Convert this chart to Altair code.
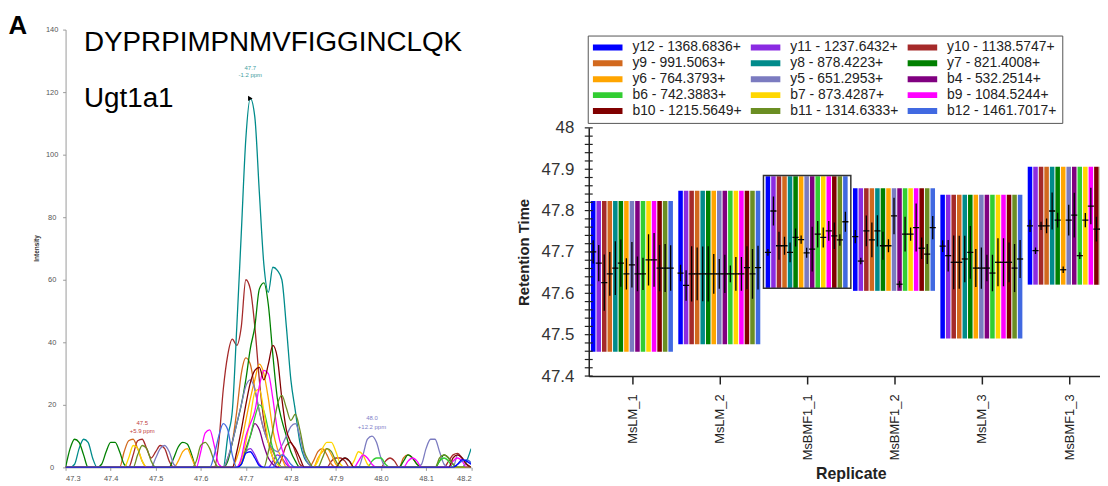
import json
import altair as alt
import pandas as pd

FONT = "Liberation Sans"

# ---------------- shared ion list ----------------
ION_LABELS = ["y12 - 1368.6836+", "y11 - 1237.6432+", "y10 - 1138.5747+",
              "y9 - 991.5063+", "y8 - 878.4223+", "y7 - 821.4008+",
              "y6 - 764.3793+", "y5 - 651.2953+", "b4 - 532.2514+",
              "b6 - 742.3883+", "b7 - 873.4287+", "b9 - 1084.5244+",
              "b10 - 1215.5649+", "b11 - 1314.6333+", "b12 - 1461.7017+"]
ION_COLORS = ["#0000FF", "#8A2BE2", "#A52A2A", "#D2691E", "#008B8B", "#008000",
              "#FFA500", "#7B7BC0", "#800080", "#32CD32", "#FFD700", "#FF00FF",
              "#800000", "#6B8E23", "#4169E1"]
LEGEND_COLUMNS = 3

# ---------------- left panel: chromatogram ----------------
PANEL_LETTER = "A"
PEPTIDE = "DYPRPIMPNMVFIGGINCLQK"
PROTEIN = "Ugt1a1"

TIME = [47.30, 47.31, 47.32, 47.33, 47.34, 47.35, 47.36, 47.37, 47.38, 47.39,
        47.40, 47.41, 47.42, 47.43, 47.44, 47.45, 47.46, 47.47, 47.48, 47.49,
        47.50, 47.51, 47.52, 47.53, 47.54, 47.55, 47.56, 47.57, 47.58, 47.59,
        47.60, 47.61, 47.62, 47.63, 47.64, 47.65, 47.66, 47.67, 47.68, 47.69,
        47.70, 47.71, 47.72, 47.73, 47.74, 47.75, 47.76, 47.77, 47.78, 47.79,
        47.80, 47.81, 47.82, 47.83, 47.84, 47.85, 47.86, 47.87, 47.88, 47.89,
        47.90, 47.91, 47.92, 47.93, 47.94, 47.95, 47.96, 47.97, 47.98, 47.99,
        48.00, 48.01, 48.02, 48.03, 48.04, 48.05, 48.06, 48.07, 48.08, 48.09,
        48.10, 48.11, 48.12, 48.13, 48.14, 48.15, 48.16, 48.17, 48.18, 48.19,
        48.20]

INT_Y12 = [0, 0, 0, 0, 0, 0, 0, 0, 0, 0,
           0, 0, 0, 0, 0, 0, 0, 0, 0, 0,
           0, 0, 0, 0, 0, 0, 0, 0, 0, 0,
           0, 0, 0, 0, 0, 0, 0, 0, 0, 1,
           4.5, 5, 3, 0.5, 0, 0, 0, 0, 0, 0,
           0, 0, 0, 0, 0, 0, 0, 0, 0, 0,
           0, 0, 0, 0, 0, 0, 0, 0, 0, 0,
           0, 0, 0, 0, 0, 0, 0, 0, 0, 0,
           0, 0, 0, 0, 0, 0, 0, 1, 2.5, 2,
           1]
INT_Y11 = [0, 0, 0, 0, 0, 0, 0, 0, 0, 0,
           0, 0, 0, 0, 0, 0, 0, 0, 0, 0,
           0, 0, 0, 0, 0, 0, 0, 0, 0, 0,
           0, 0, 0, 0, 0, 0, 0, 0, 0, 2,
           5, 6, 4, 1, 0, 0, 2, 4, 3, 1,
           0, 0, 0, 0, 0, 0, 0, 0, 0, 0,
           0, 0, 0, 0, 0, 0, 0, 0, 0, 0,
           0, 0, 0, 0, 0, 0, 0, 0, 0, 0,
           0, 0, 0, 0, 0, 0, 0, 0, 0, 0,
           0]
INT_Y10 = [0, 0, 0, 0, 0, 0, 0, 0, 0, 0,
           0, 0, 0, 0, 0, 4, 8.5, 9, 6, 3,
           5, 7, 6, 2, 0, 0, 0, 0, 0, 0,
           0, 0, 0, 0, 8, 25, 36, 41, 39, 45,
           60, 57, 45, 28, 15, 8, 3, 0, 3, 7,
           8, 5, 1, 0, 0, 0, 0, 0, 0, 2,
           3, 3, 2, 0, 0, 0, 0, 0, 0, 0,
           0, 2, 3, 2, 0, 0, 0, 0, 0, 0,
           0, 0, 0, 0, 0, 2, 4, 4.5, 3, 1,
           0]
INT_Y9 = [0, 0, 0, 0, 0, 0, 0, 0, 0, 0,
          0, 0, 0, 5, 8.5, 9, 6, 2, 0, 0,
          0, 0, 0, 0, 0, 0, 0, 0, 0, 0,
          0, 0, 0, 0, 0, 0, 3, 8, 18, 30,
          35, 33, 25, 18, 12, 8, 5, 2, 0, 0,
          0, 0, 0, 0, 0, 2, 5, 6, 4, 1,
          0, 0, 0, 0, 0, 0, 0, 0, 0, 0,
          0, 0, 0, 0, 0, 3, 4, 3, 1, 0,
          0, 0, 0, 0, 0, 0, 0, 0, 0, 0,
          0]
INT_Y8 = [0, 0, 1, 6, 9, 8, 3, 0, 0, 0,
          0, 0, 0, 0, 0, 0, 0, 0, 0, 0,
          0, 0, 0, 0, 0, 0, 0, 0, 0, 0,
          0, 0, 0, 0, 0, 0, 10, 18, 45, 75,
          105, 118, 112, 88, 65, 56, 64, 63, 60, 45,
          28, 18, 8, 3, 1, 0, 0, 0, 0, 0,
          0, 2, 3, 2, 0, 0, 0, 0, 0, 0,
          0, 0, 0, 0, 0, 0, 0, 0, 0, 0,
          0, 0, 0, 0, 0, 0, 0, 0, 0, 2,
          6]
INT_Y7 = [0, 6, 9, 8, 4, 0, 0, 0, 1, 5,
          8, 8, 5, 1, 0, 0, 0, 0, 0, 0,
          0, 0, 0, 0, 3, 6.5, 8, 7.5, 4, 0,
          0, 0, 0, 0, 0, 0, 2, 8, 14, 20,
          28, 38, 45, 57, 59, 52, 36, 22, 15, 10,
          5, 2, 0, 0, 0, 0, 0, 0, 0, 0,
          0, 0, 0, 0, 0, 0, 0, 0, 0, 0,
          0, 0, 0, 0, 0, 2, 4, 3, 1, 0,
          0, 0, 0, 2, 4, 3, 1, 0, 0, 0,
          0]
INT_Y6 = [0, 0, 0, 0, 0, 0, 0, 0, 0, 0,
          0, 0, 0, 0, 0, 0, 0, 0, 0, 0,
          0, 0, 0, 0, 0, 2, 5, 6, 3, 0,
          0, 0, 0, 0, 0, 0, 0, 0, 3, 8,
          15, 22, 28, 33, 30, 22, 12, 6, 3, 0,
          0, 0, 0, 0, 0, 0, 3, 5, 6, 4,
          1, 0, 0, 0, 0, 0, 0, 0, 0, 0,
          0, 0, 0, 0, 0, 0, 0, 0, 0, 0,
          0, 0, 0, 0, 0, 0, 0, 0, 0, 0,
          0]
INT_Y5 = [0, 0, 0, 0, 0, 0, 0, 0, 0, 0,
          0, 0, 0, 0, 0, 0, 0, 0, 0, 0,
          3, 6, 7, 5, 1, 0, 0, 0, 0, 0,
          0, 0, 0, 0, 0, 0, 3, 8, 14, 20,
          26, 28, 25, 18, 12, 8, 6, 5, 7, 10,
          13, 14, 10, 4, 1, 0, 0, 0, 0, 0,
          0, 0, 0, 0, 0, 0, 4, 9, 10, 8,
          3, 0, 0, 0, 0, 0, 0, 0, 0, 1,
          6, 9, 9, 5, 1, 0, 0, 4, 3, 1,
          0]
INT_B4 = [0, 0, 0, 0, 0, 0, 0, 0, 0, 0,
          0, 0, 0, 0, 0, 0, 0, 0, 0, 0,
          0, 0, 0, 0, 0, 0, 0, 0, 0, 0,
          0, 0, 0, 0, 0, 0, 0, 0, 0, 2,
          6, 10, 14, 12, 7, 3, 1, 0, 0, 0,
          0, 0, 0, 0, 0, 0, 0, 0, 0, 0,
          0, 0, 0, 0, 0, 0, 0, 0, 0, 0,
          0, 0, 0, 0, 0, 0, 0, 0, 0, 0,
          0, 0, 0, 0, 0, 0, 0, 0, 0, 0,
          0]
INT_B6 = [0, 0, 0, 0, 0, 0, 0, 0, 0, 0,
          0, 0, 0, 0, 0, 0, 0, 0, 0, 0,
          0, 0, 0, 0, 0, 0, 0, 0, 0, 0,
          0, 0, 0, 0, 0, 0, 0, 0, 0, 1,
          5, 10, 16, 20, 18, 12, 6, 2, 0, 0,
          0, 0, 0, 0, 0, 0, 0, 0, 0, 0,
          0, 0, 0, 0, 0, 0, 0, 0, 2, 3,
          3, 1, 0, 0, 0, 0, 0, 0, 0, 0,
          0, 0, 0, 2, 3, 2, 0, 0, 0, 0,
          0]
INT_B7 = [0, 0, 0, 0, 0, 0, 0, 0, 0, 0,
          0, 0, 0, 0, 3, 7, 6, 2, 0, 0,
          0, 0, 0, 0, 0, 0, 0, 0, 0, 0,
          0, 0, 0, 0, 0, 0, 0, 0, 0, 2,
          8, 16, 24, 25, 18, 8, 3, 1, 0, 0,
          0, 0, 0, 0, 0, 0, 2, 6, 8, 8,
          5, 1, 0, 0, 2, 5, 4, 1, 0, 0,
          0, 0, 0, 0, 0, 0, 0, 0, 0, 0,
          0, 0, 0, 0, 0, 0, 0, 0, 0, 0,
          0]
INT_B9 = [0, 0, 0, 0, 0, 0, 0, 0, 0, 0,
          0, 0, 0, 0, 0, 0, 0, 0, 0, 0,
          0, 0, 0, 0, 0, 0, 0, 0, 0, 0,
          5, 11, 12, 7, 1, 0, 0, 0, 0, 3,
          10, 14, 18, 26, 31, 30, 22, 12, 6, 2,
          0, 0, 0, 0, 0, 0, 0, 0, 0, 0,
          0, 0, 0, 0, 0, 2, 4, 3, 1, 0,
          0, 0, 0, 0, 0, 0, 2, 3, 2, 0,
          0, 0, 0, 0, 0, 0, 2, 3, 2, 0,
          0]
INT_B10 = [0, 0, 0, 0, 0, 0, 0, 0, 0, 0,
           0, 0, 0, 0, 0, 0, 0, 0, 0, 0,
           0, 0, 0, 0, 0, 0, 0, 0, 0, 0,
           0, 0, 0, 0, 0, 0, 0, 0, 5, 12,
           20, 27, 31, 32, 28, 33, 39, 35, 22, 12,
           8, 6, 3, 0, 0, 0, 0, 0, 0, 0,
           0, 2, 3, 2, 0, 0, 0, 0, 0, 0,
           0, 0, 0, 0, 0, 0, 0, 0, 0, 0,
           0, 0, 0, 0, 0, 0, 3, 4, 3, 1,
           0]
INT_B11 = [0, 0, 0, 0, 0, 0, 0, 0, 0, 0,
           0, 0, 0, 0, 0, 0, 4, 7, 6, 2,
           0, 0, 0, 0, 0, 0, 0, 0, 0, 2,
           7, 8, 6, 2, 0, 0, 0, 0, 0, 0,
           0, 0, 0, 0, 0, 5, 12, 20, 23, 19,
           15, 17, 12, 5, 2, 0, 0, 3, 6, 5,
           2, 0, 0, 0, 0, 0, 0, 0, 0, 0,
           0, 0, 0, 0, 0, 0, 0, 0, 0, 0,
           0, 0, 0, 3, 4, 3, 1, 0, 0, 0,
           0]
INT_B12 = [0, 0, 0, 0, 0, 0, 0, 0, 0, 0,
           0, 0, 0, 0, 0, 0, 0, 0, 0, 0,
           0, 0, 0, 0, 0, 0, 0, 0, 0, 0,
           0, 0, 0, 4, 10, 14, 12, 4, 0, 0,
           0, 0, 0, 0, 0, 0, 0, 2, 4, 3,
           1, 0, 0, 0, 0, 0, 0, 0, 0, 0,
           0, 0, 0, 0, 0, 0, 0, 0, 0, 0,
           0, 0, 0, 0, 0, 0, 0, 0, 0, 0,
           0, 0, 0, 0, 0, 0, 0, 1, 2, 2.5,
           1.5]

TRACES = [INT_Y12, INT_Y11, INT_Y10, INT_Y9, INT_Y8, INT_Y7, INT_Y6, INT_Y5,
          INT_B4, INT_B6, INT_B7, INT_B9, INT_B10, INT_B11, INT_B12]

X_TICKS_CHROM = [47.3, 47.4, 47.5, 47.6, 47.7, 47.8, 47.9, 48.0, 48.1, 48.2]
Y_TICKS_CHROM = [0, 5, 10, 15, 20, 25, 30, 35, 40, 45, 50, 55, 60, 65, 70,
                 75, 80, 85, 90, 95, 100, 105, 110, 115, 120, 125, 130, 135, 140]

PEAK_TIME = [47.71, 47.47, 47.98]
PEAK_HEIGHT = [118, 9, 10.4]
PEAK_RT_LABEL = ["47.7", "47.5", "48.0"]
PEAK_PPM_LABEL = ["-1.2 ppm", "+5.9 ppm", "+12.2 ppm"]
PEAK_LABEL_COLOR = ["#3E9E9E", "#C04040", "#8080C8"]

# ---------------- right panel: retention times ----------------
REPLICATES = ["MsLM_1", "MsLM_2", "MsBMF1_1", "MsBMF1_2", "MsLM_3", "MsBMF1_3"]
SELECTED_REPLICATE = "MsBMF1_1"
RT_LOW = [47.459, 47.477, 47.613, 47.606, 47.491, 47.621]
RT_HIGH = [47.823, 47.848, 47.883, 47.854, 47.838, 47.906]

RT_MEAN = [
    [47.700, 47.673, 47.626, 47.647, 47.661, 47.673, 47.647, 47.669, 47.647, 47.647, 47.681, 47.681, 47.661, 47.661, 47.661],
    [47.649, 47.619, 47.647, 47.647, 47.647, 47.647, 47.647, 47.647, 47.647, 47.647, 47.647, 47.647, 47.662, 47.647, 47.662],
    [47.699, 47.799, 47.715, 47.715, 47.699, 47.735, 47.730, 47.698, 47.707, 47.743, 47.735, 47.751, 47.739, 47.729, 47.773],
    [47.737, 47.678, 47.751, 47.729, 47.751, 47.715, 47.715, 47.787, 47.622, 47.743, 47.743, 47.759, 47.709, 47.695, 47.759],
    [47.714, 47.691, 47.675, 47.675, 47.683, 47.699, 47.661, 47.661, 47.661, 47.649, 47.675, 47.675, 47.675, 47.661, 47.683],
    [47.763, 47.703, 47.763, 47.763, 47.799, 47.777, 47.657, 47.777, 47.789, 47.691, 47.777, 47.811, 47.755, 47.755, 47.760],
]
RT_SD = [
    [0.028, 0.044, 0.068, 0.053, 0.065, 0.057, 0.038, 0.055, 0.042, 0.039, 0.062, 0.065, 0.056, 0.058, 0.055],
    [0.020, 0.037, 0.067, 0.064, 0.066, 0.067, 0.048, 0.036, 0.046, 0.020, 0.041, 0.041, 0.052, 0.060, 0.053],
    [0.008, 0.035, 0.034, 0.022, 0.024, 0.022, 0.010, 0.012, 0.054, 0.032, 0.024, 0.024, 0.032, 0.014, 0.024],
    [0.016, 0.008, 0.037, 0.042, 0.038, 0.034, 0.016, 0.044, 0.008, 0.042, 0.016, 0.058, 0.026, 0.024, 0.028],
    [0.014, 0.038, 0.065, 0.064, 0.056, 0.064, 0.046, 0.050, 0.032, 0.044, 0.058, 0.058, 0.048, 0.058, 0.046],
    [0.015, 0.008, 0.010, 0.018, 0.045, 0.018, 0.008, 0.037, 0.054, 0.008, 0.017, 0.044, 0.030, 0.030, 0.030],
]
RT_TICKS = [47.4, 47.5, 47.6, 47.7, 47.8, 47.9, 48.0]
RT_MINOR_TICKS = [47.40, 47.42, 47.44, 47.46, 47.48, 47.50, 47.52, 47.54, 47.56, 47.58,
                  47.60, 47.62, 47.64, 47.66, 47.68, 47.70, 47.72, 47.74, 47.76, 47.78,
                  47.80, 47.82, 47.84, 47.86, 47.88, 47.90, 47.92, 47.94, 47.96, 47.98, 48.00]

# ---------------- build tables ----------------
recs = []
draw_order = list(range(1, len(ION_LABELS))) + [0]   # y12 drawn last
for k in draw_order:
    assert len(TRACES[k]) == len(TIME)
    for t, v in zip(TIME, TRACES[k]):
        recs.append({"Time": t, "Intensity": v, "Ion": ION_LABELS[k]})
chrom = pd.DataFrame(recs)

ann = pd.DataFrame({"Time": PEAK_TIME, "Intensity": PEAK_HEIGHT, "rt": PEAK_RT_LABEL,
                    "ppm": PEAK_PPM_LABEL, "col": PEAK_LABEL_COLOR})
ann_main = ann.iloc[:1]
ann_side = ann.iloc[1:]

SPAN = 0.95
n_ion = len(ION_LABELS)
w = SPAN / n_ion
rows = []
for r, rep in enumerate(REPLICATES):
    for k, ion in enumerate(ION_LABELS):
        left = r - SPAN / 2 + k * w
        xc = left + w * 0.41
        rows.append({"Replicate": rep, "Ion": ion, "x0": left, "x1": left + w * 0.82,
                     "xc": xc, "mx0": xc - 0.035, "mx1": xc + 0.035,
                     "lo": RT_LOW[r], "hi": RT_HIGH[r],
                     "mean": RT_MEAN[r][k], "elo": RT_MEAN[r][k] - RT_SD[r][k],
                     "ehi": RT_MEAN[r][k] + RT_SD[r][k]})
rt = pd.DataFrame(rows)
si = REPLICATES.index(SELECTED_REPLICATE)
sel = pd.DataFrame({"x0": [si - 0.5], "x1": [si + 0.5],
                    "lo": [RT_LOW[si] - 0.001], "hi": [RT_HIGH[si] + 0.002]})
ticks_df = pd.DataFrame({"lo": RT_MINOR_TICKS})

# legend entries are filled column by column; reorder so they read row by row
n_rows = -(-n_ion // LEGEND_COLUMNS)
legend_order = [ION_LABELS[rr * LEGEND_COLUMNS + cc]
                for cc in range(LEGEND_COLUMNS) for rr in range(n_rows)
                if rr * LEGEND_COLUMNS + cc < n_ion]

# ---------------- left chart ----------------
LW, LH = 408.5, 441
xs = alt.X("Time:Q", scale=alt.Scale(domain=[47.3, 48.2], nice=False, zero=False),
           axis=alt.Axis(values=X_TICKS_CHROM, format=".1f", labelFontSize=7.5, labelColor="#555",
                         tickSize=3, tickColor="#999", domainColor="#999", labelPadding=4,
                         grid=False, title=None))
ys = alt.Y("Intensity:Q", scale=alt.Scale(domain=[0, 140], nice=False),
           axis=alt.Axis(values=Y_TICKS_CHROM, labelExpr="datum.value % 20 == 0 ? datum.label : ''",
                         labelFontSize=7.5, labelColor="#555", labelAlign="center", labelPadding=11,
                         tickSize=3, tickColor="#999", domainColor="#999", grid=False,
                         title="Intensity", titleFontSize=6.5, titleFontWeight="bold", titleColor="#333",
                         titleX=-29.5, titleY=220, titleAngle=270, titleAlign="center",
                         titleBaseline="middle"))

lines = alt.Chart(chrom).mark_line(strokeWidth=1.3, interpolate="monotone", clip=True).encode(
    x=xs, y=ys,
    color=alt.Color("Ion:N", scale=alt.Scale(domain=ION_LABELS, range=ION_COLORS), legend=None),
)
main_rt = alt.Chart(ann_main).mark_text(fontSize=6, dy=-31).encode(
    x="Time:Q", y="Intensity:Q", text="rt:N", color=alt.Color("col:N", scale=None))
main_ppm = alt.Chart(ann_main).mark_text(fontSize=6, dy=-24).encode(
    x="Time:Q", y="Intensity:Q", text="ppm:N", color=alt.Color("col:N", scale=None))
side_rt = alt.Chart(ann_side).mark_text(fontSize=6, dy=-16.5).encode(
    x="Time:Q", y="Intensity:Q", text="rt:N", color=alt.Color("col:N", scale=None))
side_ppm = alt.Chart(ann_side).mark_text(fontSize=6, dy=-8).encode(
    x="Time:Q", y="Intensity:Q", text="ppm:N", color=alt.Color("col:N", scale=None))
marker = alt.Chart(ann_main).mark_point(shape="triangle-right", filled=True, color="black",
                                        size=28, opacity=1, dx=-5).encode(x="Time:Q", y="Intensity:Q")

letter = alt.Chart(pd.DataFrame({"txt": [PANEL_LETTER]})).mark_text(
    align="left", baseline="alphabetic", fontSize=26, fontWeight="bold", color="black").encode(
    text="txt:N", x=alt.value(-57.5), y=alt.value(4.7))
pep = alt.Chart(pd.DataFrame({"txt": [PEPTIDE]})).mark_text(
    align="left", baseline="alphabetic", fontSize=28, color="black").encode(
    text="txt:N", x=alt.value(18.5), y=alt.value(22))
prot = alt.Chart(pd.DataFrame({"txt": [PROTEIN]})).mark_text(
    align="left", baseline="alphabetic", fontSize=28, color="black").encode(
    text="txt:N", x=alt.value(18.5), y=alt.value(78))

left = alt.layer(lines, main_rt, main_ppm, side_rt, side_ppm, marker, letter, pep, prot).properties(
    width=LW, height=LH)

# ---------------- right chart ----------------
RW, RH = 515, 250
x_scale_r = alt.Scale(domain=[-0.5, -0.5 + RW / 88.0], nice=False, zero=False)
y_scale_r = alt.Scale(domain=[47.4, 48.0], nice=False, zero=False)
x_axis_r = alt.Axis(values=[0, 1, 2, 3, 4, 5],
                    labelExpr=json.dumps(REPLICATES) + "[datum.value]",
                    labelAngle=270, labelFontSize=13, labelColor="#222", labelPadding=10,
                    tickSize=8, tickWidth=1.5, tickColor="#222", domainColor="#222",
                    domainWidth=1.5, grid=False, title="Replicate", titleFontSize=16,
                    titleFontWeight="bold", titleColor="#222", titleX=264, titleY=98,
                    titleAlign="center", titleBaseline="middle")
y_axis_r = alt.Axis(values=RT_TICKS, format=".1~f", labelFontSize=17, labelColor="#333",
                    ticks=False, tickSize=0, labelPadding=15, domainColor="#222",
                    domainWidth=1.5, grid=False, title="Retention Time", titleFontSize=15,
                    titleFontWeight="bold", titleColor="#222", titleX=-66, titleY=125,
                    titleAngle=270, titleAlign="center", titleBaseline="middle")


def XR(field):
    return alt.X(field, type="quantitative", scale=x_scale_r, axis=x_axis_r)


def YR(field):
    return alt.Y(field, type="quantitative", scale=y_scale_r, axis=y_axis_r)


stripes = alt.Chart(rt).mark_rect(clip=True).encode(
    x=XR("x0"), x2="x1:Q", y=YR("lo"), y2="hi:Q",
    color=alt.Color("Ion:N", scale=alt.Scale(domain=legend_order,
                                             range=[ION_COLORS[ION_LABELS.index(l)] for l in legend_order]),
                    legend=alt.Legend(title=None, orient="none", legendX=-1, legendY=-93,
                                      columns=LEGEND_COLUMNS, symbolType="M-1,-0.2H1V0.2H-1Z",
                                      symbolSize=900, symbolStrokeWidth=0, symbolOpacity=1,
                                      clipHeight=14, labelFontSize=14, labelColor="#222",
                                      labelOffset=10, labelLimit=250, columnPadding=8,
                                      rowPadding=2, padding=5, strokeColor="#555",
                                      fillColor="white")),
)
outline = alt.Chart(sel).mark_rect(fillOpacity=0, stroke="#333", strokeWidth=1.5, clip=True).encode(
    x=XR("x0"), x2="x1:Q", y=YR("lo"), y2="hi:Q")
err = alt.Chart(rt).mark_rule(color="black", strokeWidth=1.3, clip=True).encode(
    x=XR("xc"), y=YR("elo"), y2="ehi:Q")
mean_tick = alt.Chart(rt).mark_rule(color="black", strokeWidth=1.3, clip=True).encode(
    x=XR("mx0"), x2="mx1:Q", y=YR("mean"))
yticks = alt.Chart(ticks_df).mark_rule(color="#222", strokeWidth=1.2).encode(
    y=YR("lo"), x=alt.value(-4), x2=alt.value(4))

right = alt.layer(stripes, outline, err, mean_tick, yticks).properties(width=RW, height=RH)

spacer = alt.Chart(pd.DataFrame({"v": [0]})).mark_point(opacity=0).encode(
    x=alt.value(0), y=alt.value(0)).properties(width=10, height=99)

right_col = alt.vconcat(spacer, right, spacing=0, bounds="flush").resolve_scale(
    color="independent").resolve_legend(color="independent")

chart = alt.hconcat(left, right_col, spacing=118, bounds="flush").resolve_scale(
    color="independent").resolve_legend(color="independent").properties(
    padding={"left": 0, "top": 3, "right": 0, "bottom": 0}
).configure(font=FONT).configure_view(strokeWidth=0)

chart.save("out.html", embed_options={"renderer": "svg", "actions": False})
